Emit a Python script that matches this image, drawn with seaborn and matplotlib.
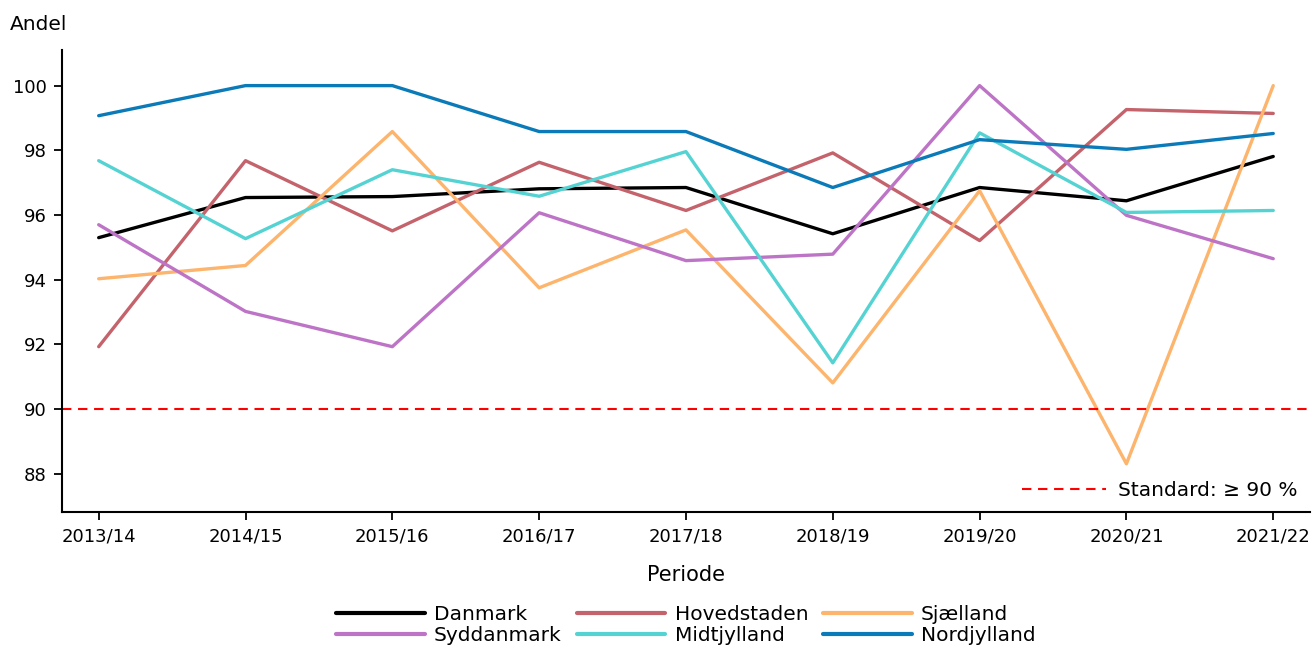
import pandas as pd
import matplotlib
matplotlib.use("Agg")
import matplotlib.pyplot as plt
import seaborn as sns
from matplotlib.lines import Line2D

# ======== DATA ========
perioder = ["2013/14", "2014/15", "2015/16", "2016/17", "2017/18",
            "2018/19", "2019/20", "2020/21", "2021/22"]

danmark = [95.30, 96.54, 96.57, 96.81, 96.85, 95.42, 96.85, 96.44, 97.81]
hovedstaden = [91.93, 97.68, 95.51, 97.63, 96.14, 97.92, 95.21, 99.26, 99.14]
sjaelland = [94.03, 94.44, 98.58, 93.75, 95.54, 90.81, 96.75, 88.31, 100.0]
syddanmark = [95.70, 93.02, 91.93, 96.07, 94.59, 94.79, 100.0, 95.99, 94.65]
midtjylland = [97.68, 95.27, 97.40, 96.58, 97.96, 91.43, 98.54, 96.08, 96.14]
nordjylland = [99.07, 100.0, 100.0, 98.58, 98.58, 96.85, 98.33, 98.03, 98.52]

standard = 90

regioner = ["Danmark", "Hovedstaden", "Sjælland",
            "Syddanmark", "Midtjylland", "Nordjylland"]
farver = ["#000000", "#C4636B", "#FDB46C", "#BD74C6", "#55D3D3", "#0B7AB8"]

# ======== LONG FORMAT ========
serier = [danmark, hovedstaden, sjaelland, syddanmark, midtjylland, nordjylland]
rows = []
for navn, vals in zip(regioner, serier):
    for p, v in zip(perioder, vals):
        rows.append({"Periode": p, "Andel": v, "Region": navn})
df = pd.DataFrame(rows)

# ======== PLOT ========
sns.set_style("ticks")
plt.rcParams["font.family"] = ["DejaVu Sans"]
plt.rcParams["font.size"] = 13
for k in ["text.color", "axes.labelcolor", "xtick.color", "ytick.color",
          "axes.edgecolor"]:
    plt.rcParams[k] = "black"

fig = plt.figure(figsize=(13.16, 6.48), dpi=100)
ax = fig.add_axes([0.0471, 0.2099, 0.9483, 0.7129])

sns.lineplot(data=df, x="Periode", y="Andel", hue="Region",
             hue_order=regioner, palette=dict(zip(regioner, farver)),
             linewidth=2.4, ax=ax, legend=False)

dash = (0, (4.5, 3.2))
ax.axhline(standard, color="red", linestyle=dash, linewidth=1.5)

ax.set_xlim(-0.25, 8.25)
ax.set_ylim(86.82, 101.1)
ax.set_yticks([88, 90, 92, 94, 96, 98, 100])
ax.set_ylabel("")
ax.set_xlabel("Periode", fontsize=15, labelpad=14)
ax.tick_params(axis="both", labelsize=13, length=6, width=1.3, pad=5)
for s in ["left", "bottom"]:
    ax.spines[s].set_linewidth(1.5)
sns.despine(ax=ax)

fig.text(10 / 1316, 1 - 25 / 648, "Andel", fontsize=14.5, ha="left", va="center")

# standard legend (inside, lower right)
std_handle = Line2D([], [], color="red", linestyle=dash, linewidth=1.5)
leg_std = ax.legend([std_handle], ["Standard: \u2265 90 %"], loc="lower right",
                    frameon=False, fontsize=14.5, handlelength=4.2,
                    handletextpad=0.6, borderaxespad=0.2)
ax.add_artist(leg_std)

# region legend below the plot (row-wise order)
handles = [Line2D([], [], color=c, linewidth=3) for c in farver]
order = [0, 3, 1, 4, 2, 5]
ax.legend([handles[i] for i in order], [regioner[i] for i in order],
          loc="center", bbox_to_anchor=(0.5, -0.245), ncol=3, frameon=False,
          fontsize=14.5, handlelength=4.4, handletextpad=0.45,
          columnspacing=0.75, labelspacing=0.12)

fig.savefig("out.png", dpi=100)
plt.close(fig)
